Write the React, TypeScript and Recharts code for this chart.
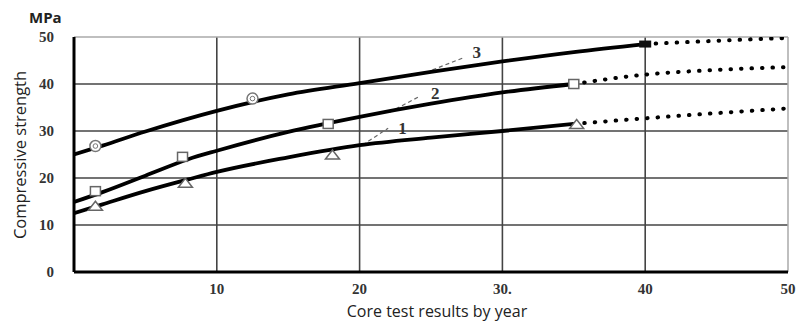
import React from 'react';
import { ComposedChart, Line, Scatter, XAxis, YAxis, ReferenceLine } from 'recharts';

const xTicks = [10, 20, 30, 40, 50];
const xTickLabels = ['10', '20', '30.', '40', '50'];
const yTicks = [0, 10, 20, 30, 40, 50];
const gridX = [10, 20, 30, 40];
const gridY = [10, 20, 30, 40];

// solid fitted curves (years, MPa)
const curve1 = [
  { x: 0, y: 12.5 }, { x: 2, y: 14.4 }, { x: 5, y: 17.2 }, { x: 8, y: 19.7 }, { x: 10, y: 21.3 },
  { x: 15, y: 24.4 }, { x: 20, y: 27 }, { x: 25, y: 28.6 }, { x: 30, y: 30 }, { x: 35, y: 31.5 },
];
const curve2 = [
  { x: 0, y: 14.9 }, { x: 2, y: 17 }, { x: 5, y: 20.5 }, { x: 8, y: 24 }, { x: 10, y: 25.8 },
  { x: 15, y: 29.8 }, { x: 20, y: 33 }, { x: 25, y: 35.8 }, { x: 30, y: 38.2 }, { x: 35, y: 40 },
];
const curve3 = [
  { x: 0, y: 25 }, { x: 2, y: 26.9 }, { x: 5, y: 29.9 }, { x: 10, y: 34.3 }, { x: 15, y: 37.8 },
  { x: 20, y: 40.2 }, { x: 25, y: 42.6 }, { x: 30, y: 44.8 }, { x: 35, y: 46.8 }, { x: 40, y: 48.5 },
];

// dotted extrapolations
const ext1 = [{ x: 35, y: 31.5 }, { x: 40, y: 32.7 }, { x: 45, y: 33.8 }, { x: 50, y: 34.8 }];
const ext2 = [{ x: 35, y: 40 }, { x: 40, y: 42 }, { x: 45, y: 43 }, { x: 50, y: 43.6 }];
const ext3 = [{ x: 40, y: 48.5 }, { x: 45, y: 49.2 }, { x: 50, y: 49.8 }];

// measured points
const triangles = [{ x: 1.5, y: 14.1 }, { x: 7.8, y: 19 }, { x: 18.1, y: 25 }, { x: 35.2, y: 31.5 }];
const squares = [{ x: 1.5, y: 17.2 }, { x: 7.6, y: 24.5 }, { x: 17.8, y: 31.5 }, { x: 35, y: 40 }];
const circles = [{ x: 1.5, y: 26.8 }, { x: 12.5, y: 36.9 }];
const endPoint = [{ x: 40, y: 48.5 }];

// curve number labels and leader lines
const curveLabels = [
  { x: 28.2, y: 46.6, label: '3' },
  { x: 25.3, y: 37.9, label: '2' },
  { x: 23.0, y: 30.6, label: '1' },
];
const leaders = [
  [{ x: 25.1, y: 43 }, { x: 27.2, y: 45.5 }],
  [{ x: 22.1, y: 34 }, { x: 24.1, y: 37.2 }],
  [{ x: 20.2, y: 27 }, { x: 22.0, y: 30.6 }],
];

const Tri = (p: any) => {
  const { cx, cy } = p;
  return (
    <polygon
      points={`${cx - 7},${cy + 4.5} ${cx + 7},${cy + 4.5} ${cx},${cy - 4.5}`}
      fill="#fff"
      stroke="#666"
      strokeWidth={1.5}
    />
  );
};
const Sq = (p: any) => {
  const { cx, cy } = p;
  return <rect x={cx - 5} y={cy - 4.5} width={10} height={9} fill="#fff" stroke="#666" strokeWidth={1.5} />;
};
const Circ = (p: any) => {
  const { cx, cy } = p;
  return (
    <g>
      <circle cx={cx} cy={cy} r={5.5} fill="#fff" stroke="#777" strokeWidth={1.5} />
      <circle cx={cx} cy={cy} r={2.3} fill="none" stroke="#777" strokeWidth={1} />
    </g>
  );
};
const EndMark = (p: any) => {
  const { cx, cy } = p;
  return <rect x={cx - 6} y={cy - 3.5} width={12} height={7} fill="#111" />;
};
const LabelText = (p: any) => {
  const { cx, cy, payload } = p;
  return (
    <text
      x={cx}
      y={cy}
      textAnchor="middle"
      dominantBaseline="central"
      fontFamily="'Liberation Serif', serif"
      fontWeight="bold"
      fontSize={17}
      fill="#333"
    >
      {payload.label}
    </text>
  );
};

const tickStyle = { fontFamily: "'Liberation Serif', serif", fontWeight: 'bold', fontSize: 15, fill: '#333' };

export default function App() {
  return (
    <div style={{ position: 'absolute', left: 0, top: 0, width: 798, height: 323, background: '#fff' }}>
      <ComposedChart width={798} height={323} margin={{ top: 37, right: 10, left: 0, bottom: 0 }}>
        <XAxis
          type="number"
          dataKey="x"
          domain={[0, 50]}
          ticks={xTicks}
          tickFormatter={(v: number) => xTickLabels[xTicks.indexOf(v)]}
          height={51}
          tickLine={false}
          tickSize={0}
          tickMargin={11}
          axisLine={{ stroke: '#000', strokeWidth: 3 }}
          tick={tickStyle}
          allowDataOverflow
          interval={0}
        />
        <YAxis
          type="number"
          dataKey="y"
          domain={[0, 50]}
          ticks={yTicks}
          width={74}
          tickLine={false}
          tickSize={0}
          tickMargin={20}
          axisLine={{ stroke: '#000', strokeWidth: 3 }}
          tick={tickStyle}
          allowDataOverflow
          interval={0}
        />
        {gridY.map((v) => (
          <ReferenceLine key={'gy' + v} y={v} stroke="#444" strokeWidth={1.6} />
        ))}
        {gridX.map((v) => (
          <ReferenceLine key={'gx' + v} x={v} stroke="#444" strokeWidth={1.6} />
        ))}
        <ReferenceLine y={50} stroke="#aaa" strokeWidth={1.5} />
        <ReferenceLine x={50} stroke="#aaa" strokeWidth={1.5} />
        {leaders.map((seg, i) => (
          <ReferenceLine key={'ld' + i} segment={seg} stroke="#666" strokeWidth={1.2} strokeDasharray="4 3" />
        ))}
        <Line data={curve1} dataKey="y" type="monotone" stroke="#000" strokeWidth={3.8} dot={false} activeDot={false} isAnimationActive={false} />
        <Line data={curve2} dataKey="y" type="monotone" stroke="#000" strokeWidth={3.8} dot={false} activeDot={false} isAnimationActive={false} />
        <Line data={curve3} dataKey="y" type="monotone" stroke="#000" strokeWidth={3.8} dot={false} activeDot={false} isAnimationActive={false} />
        <Line data={ext1} dataKey="y" type="monotone" stroke="#000" strokeWidth={4} strokeDasharray="0.5 10" strokeLinecap="round" dot={false} activeDot={false} isAnimationActive={false} />
        <Line data={ext2} dataKey="y" type="monotone" stroke="#000" strokeWidth={4} strokeDasharray="0.5 10" strokeLinecap="round" dot={false} activeDot={false} isAnimationActive={false} />
        <Line data={ext3} dataKey="y" type="monotone" stroke="#000" strokeWidth={4} strokeDasharray="0.5 10" strokeLinecap="round" dot={false} activeDot={false} isAnimationActive={false} />
        <Scatter data={triangles} dataKey="y" shape={Tri} isAnimationActive={false} />
        <Scatter data={squares} dataKey="y" shape={Sq} isAnimationActive={false} />
        <Scatter data={circles} dataKey="y" shape={Circ} isAnimationActive={false} />
        <Scatter data={endPoint} dataKey="y" shape={EndMark} isAnimationActive={false} />
        <Scatter data={curveLabels} dataKey="y" shape={LabelText} isAnimationActive={false} />
      </ComposedChart>
      <div
        style={{
          position: 'absolute', left: 29, top: 8, fontFamily: "'Open Sans', sans-serif", fontWeight: 'bold',
          fontSize: 15, lineHeight: '18px', color: '#222',
        }}
      >
        MPa
      </div>
      <div
        style={{
          position: 'absolute', left: 437, top: 301, transform: 'translateX(-50%)', whiteSpace: 'nowrap',
          fontFamily: "'Open Sans', sans-serif", fontSize: 16, lineHeight: '20px', color: '#222',
        }}
      >
        Core test results by year
      </div>
      <div
        style={{
          position: 'absolute', left: 20, top: 155, transform: 'translate(-50%, -50%) rotate(-90deg)',
          whiteSpace: 'nowrap', fontFamily: "'Open Sans', sans-serif", fontSize: 16.5, lineHeight: '20px', color: '#222',
        }}
      >
        Compressive strength
      </div>
    </div>
  );
}
